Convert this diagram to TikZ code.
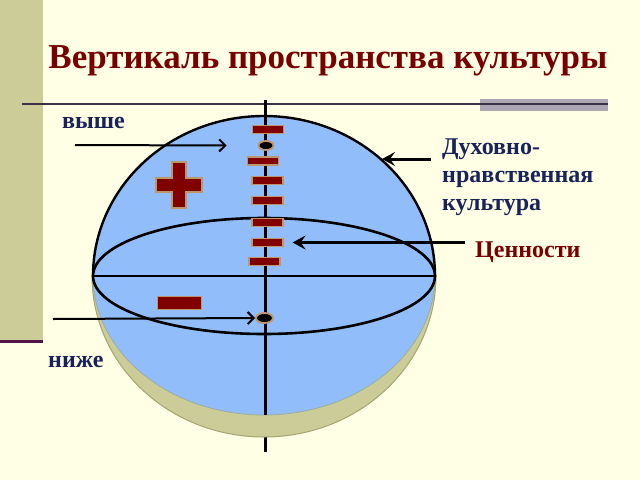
\documentclass[tikz,border=0pt]{standalone}
\usepackage{fontspec}
\setmainfont{Liberation Serif}
\usetikzlibrary{arrows.meta,shapes.geometric}

\definecolor{paper}{RGB}{255,255,230}
\definecolor{strip}{RGB}{204,204,153}
\definecolor{stripline}{RGB}{80,20,70}
\definecolor{rulegray}{RGB}{170,166,180}
\definecolor{ruleline}{RGB}{60,50,70}
\definecolor{sky}{RGB}{145,190,250}
\definecolor{shell}{RGB}{204,204,153}
\definecolor{shelledge}{RGB}{165,165,115}
\definecolor{valred}{RGB}{128,0,0}
\definecolor{valedge}{RGB}{190,150,110}
\definecolor{titlered}{RGB}{120,0,0}
\definecolor{navy}{RGB}{25,35,90}

\begin{document}
\begin{tikzpicture}[x=1pt,y=-1pt]
		\tikzstyle{bar}=[rectangle, fill=valred, draw=valedge, line width=1.2pt, minimum width=31pt, minimum height=8pt, inner sep=0pt];
		\tikzstyle{dot}=[ellipse, fill=black, draw=valedge, line width=1.8pt, inner sep=0pt];
		\tikzstyle{sidetext}=[font=\bfseries\fontsize{24}{28}\selectfont, text=navy, inner sep=0pt];
		\tikzstyle{thick pointer}=[line width=3pt, -{Stealth[length=13pt,width=14pt,inset=5pt]}];
		\tikzstyle{thin pointer}=[line width=2pt, -{Straight Barb[length=6pt,width=12pt]}];

		% background and slide decoration
		\fill[paper] (0,0) rectangle (640,480);
		\useasboundingbox (0,0) rectangle (640,480);
		\fill[strip] (0,0) rectangle (43,340);
		\draw[stripline, line width=2.5pt] (0,341.5) -- (43,341.5);
		\fill[rulegray] (480,99) rectangle (608,111);
		\draw[ruleline, line width=1.5pt] (22,104) -- (608,104);

		\node[font=\bfseries\fontsize{35}{40}\selectfont, text=titlered, inner sep=0pt, anchor=base] (title) at (328,68) {Вертикаль пространства культуры};

		% axis and sphere
		\coordinate (axtop) at (265,100);
		\coordinate (axbot) at (265,452);
		\draw[line width=3pt] (axtop) -- (axbot);
		\filldraw[fill=shell, draw=shelledge, line width=1pt] (92,276) arc[start angle=180, end angle=360, x radius=172pt, y radius=161pt] -- cycle;
		\filldraw[fill=sky, draw=shelledge!70!sky, line width=0.8pt] (93,276) arc[start angle=180, end angle=0, x radius=171pt, y radius=160pt] arc[start angle=0, end angle=-180, x radius=171pt, y radius=139pt];
		\draw[line width=2.4pt] (93,276) arc[start angle=180, end angle=0, x radius=171pt, y radius=160pt];
		\draw[line width=3pt] (265,116) -- (265,415);
		\draw[line width=2.6pt] (264,276) ellipse[x radius=171pt, y radius=58pt];
		\draw[line width=2.6pt] (93,276) -- (435,276);

		% values on the axis
		\foreach \bx/\by [count=\i] in {268/129.5, 263/161, 267.5/180.5, 267.5/200.5, 267.5/222.5, 267.5/242.5, 264.5/261.5}
			\node[bar] (bar\i) at (\bx,\by) {};
		\node[dot, minimum width=15pt, minimum height=9pt] (dot1) at (266,145.5) {};
		\node[dot, minimum width=17pt, minimum height=10pt] (dot2) at (264.5,318) {};

		% plus and minus
		\filldraw[fill=valred, draw=valedge, line width=1.2pt] (172,162) -- (186,162) -- (186,178) -- (202,178) -- (202,192) -- (186,192) -- (186,208) -- (172,208) -- (172,192) -- (156,192) -- (156,178) -- (172,178) -- cycle;
		\node[rectangle, fill=valred, draw=valedge, line width=1.2pt, minimum width=44pt, minimum height=13pt, inner sep=0pt] (minus) at (179.5,303) {};

		% labels
		\node[sidetext, anchor=base west] (vyshe) at (62,128) {выше};
		\node[sidetext, anchor=base west] (nizhe) at (48,367) {ниже};
		\node[sidetext, align=left, anchor=north west] (dukh) at (442,139) {Духовно-\\нравственная\\культура};
		\node[sidetext, text=titlered, anchor=base west] (cennosti) at (475,257) {Ценности};

		% pointers
		\coordinate (vysheTail) at (75,145);
		\coordinate (nizheTail) at (53,319);
		\coordinate (dukhTail) at (431,159);
		\coordinate (dome) at (382,159);
		\coordinate (cennTail) at (465,242.5);
		\draw[thin pointer] (vysheTail) -- ([xshift=-31pt]dot1.west);
		\draw[thin pointer] (nizheTail) -- (dot2.west);
		\draw[thick pointer] (dukhTail) -- (dome);
		\draw[thick pointer] (cennTail) -- ([xshift=9pt]bar6.east);
\end{tikzpicture}
\end{document}
